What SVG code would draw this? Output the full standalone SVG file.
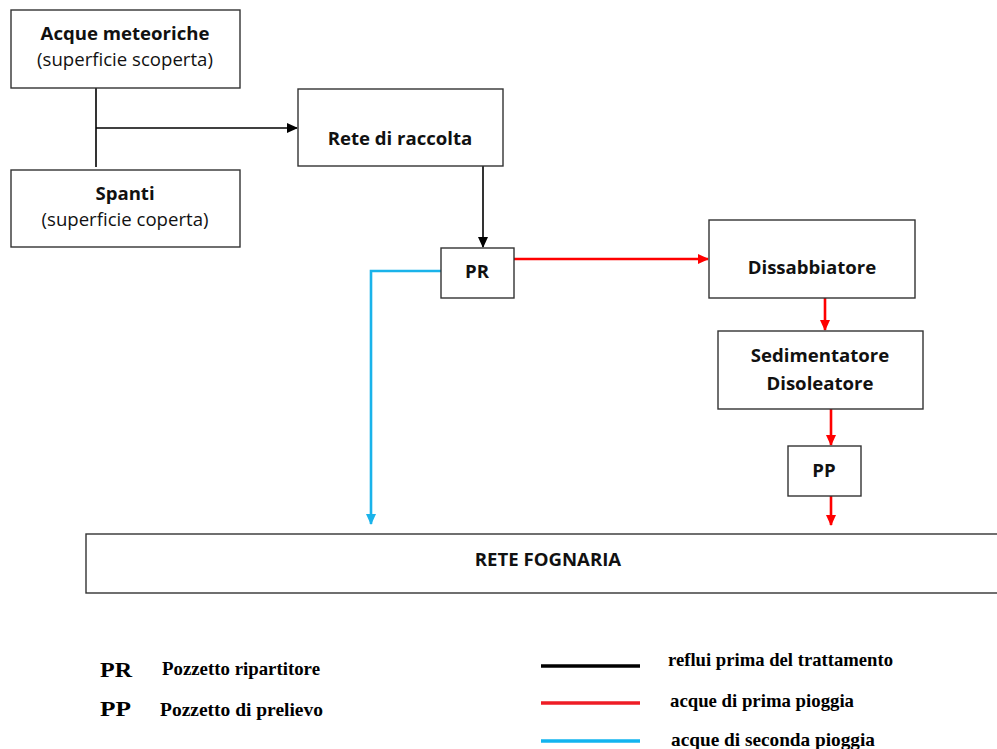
<svg xmlns="http://www.w3.org/2000/svg" width="997" height="749" viewBox="0 0 997 749">
<defs>
<style>
.box{fill:#fff;stroke:#333;stroke-width:1.4}
.t{font-family:"Open Sans","Liberation Sans",sans-serif;font-size:18.6px;fill:#111;text-anchor:middle}
.b{font-weight:bold}
.k{stroke:#000;stroke-width:1.6;fill:none}
.r{stroke:#f00;stroke-width:2.6;fill:none}
.c{stroke:#1ab3ea;stroke-width:2.6;fill:none}
.lg{font-family:"Liberation Serif",serif;font-weight:bold;fill:#000}
</style>
<marker id="ak" markerWidth="12" markerHeight="12" refX="10" refY="5" orient="auto" markerUnits="userSpaceOnUse"><path d="M0,0 L11,5 L0,10 Z" fill="#000"/></marker>
<marker id="ar" markerWidth="12" markerHeight="12" refX="10" refY="5" orient="auto" markerUnits="userSpaceOnUse"><path d="M0,0 L11,5 L0,10 Z" fill="#f00"/></marker>
<marker id="ac" markerWidth="12" markerHeight="12" refX="10" refY="5" orient="auto" markerUnits="userSpaceOnUse"><path d="M0,0 L11,5 L0,10 Z" fill="#1ab3ea"/></marker>
</defs>
<g id="connectors">
<path class="k" d="M96,88 V167"/>
<path class="k" d="M96,128 H297" marker-end="url(#ak)"/>
<path class="k" d="M483,166 V247" marker-end="url(#ak)"/>
<path class="r" d="M514,259 H708" marker-end="url(#ar)"/>
<path class="c" d="M441,271 H371 V524" marker-end="url(#ac)"/>
<path class="r" d="M825,298 V330" marker-end="url(#ar)"/>
<path class="r" d="M831,409 V445" marker-end="url(#ar)"/>
<path class="r" d="M831,496 V525" marker-end="url(#ar)"/>
</g>
<g id="acque"><rect class="box" x="11" y="10" width="229" height="78"/>
<text class="t b" x="125" y="40">Acque meteoriche</text><text class="t" x="125" y="66">(superficie scoperta)</text></g>
<g id="spanti"><rect class="box" x="11" y="170" width="229" height="77"/>
<text class="t b" x="125" y="200">Spanti</text><text class="t" x="125" y="226">(superficie coperta)</text></g>
<g id="rete"><rect class="box" x="298" y="89" width="205" height="77"/>
<text class="t b" x="400" y="145">Rete di raccolta</text></g>
<g id="pr"><rect class="box" x="441" y="248" width="73" height="50"/>
<text class="t b" x="477" y="278">PR</text></g>
<g id="dissabbiatore"><rect class="box" x="709" y="220" width="206" height="78"/>
<text class="t b" x="812" y="274">Dissabbiatore</text></g>
<g id="sedimentatore"><rect class="box" x="718" y="331" width="205" height="78"/>
<text class="t b" x="820" y="362">Sedimentatore</text><text class="t b" x="820" y="390">Disoleatore</text></g>
<g id="pp"><rect class="box" x="788" y="446" width="73" height="50"/>
<text class="t b" x="824" y="477">PP</text></g>
<g id="fognaria"><rect class="box" x="86" y="534" width="915" height="59"/>
<text class="t b" x="548" y="566">RETE FOGNARIA</text></g>
<g id="legend">
<text class="lg" x="100" y="677" font-size="22" textLength="32" lengthAdjust="spacingAndGlyphs">PR</text>
<text class="lg" x="162" y="675" font-size="19" textLength="158" lengthAdjust="spacingAndGlyphs">Pozzetto ripartitore</text>
<text class="lg" x="100" y="716" font-size="22" textLength="31" lengthAdjust="spacingAndGlyphs">PP</text>
<text class="lg" x="160" y="716" font-size="19" textLength="163" lengthAdjust="spacingAndGlyphs">Pozzetto di prelievo</text>
<path d="M541,666 H640" stroke="#000" stroke-width="3.5"/>
<path d="M541,703 H640" stroke="#ee1c25" stroke-width="3.5"/>
<path d="M541,741 H640" stroke="#12b4ef" stroke-width="3.5"/>
<text class="lg" x="668" y="666" font-size="19" textLength="225" lengthAdjust="spacingAndGlyphs">reflui prima del trattamento</text>
<text class="lg" x="670" y="707" font-size="19" textLength="184" lengthAdjust="spacingAndGlyphs">acque di prima pioggia</text>
<text class="lg" x="671" y="746" font-size="19" textLength="204" lengthAdjust="spacingAndGlyphs">acque di seconda pioggia</text>
</g>
</svg>
